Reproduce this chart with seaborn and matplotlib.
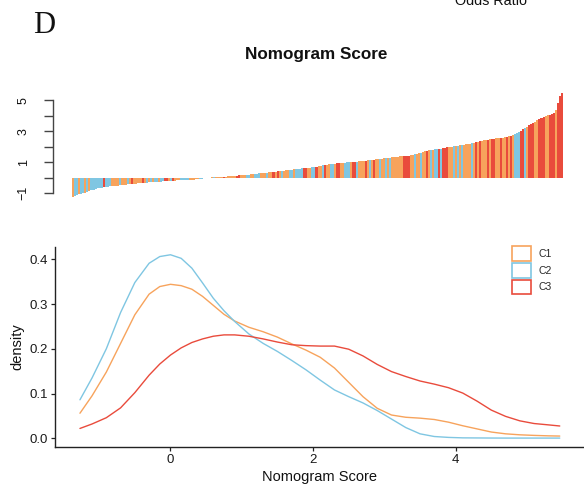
import numpy as np
import pandas as pd
import matplotlib
matplotlib.use("Agg")
import matplotlib.pyplot as plt
import seaborn as sns
from matplotlib.patches import Patch

sns.set_theme(style="white")
plt.rcParams['font.family'] = ['Liberation Sans', 'DejaVu Sans']

# ---------------- data ----------------
group_names = ["C1", "C2", "C3"]
group_colors = ["#F7A35C", "#7FC6E2", "#E94B3C"]

# sorted nomogram scores (waterfall bars)
bar_scores = [
    -1.27, -1.18, -1.12, -1.07, -1.03, -0.99, -0.95, -0.90, -0.86, -0.81,
    -0.76, -0.72, -0.69, -0.66, -0.63, -0.61, -0.59, -0.58, -0.56, -0.55,
    -0.53, -0.52, -0.50, -0.49, -0.47, -0.46, -0.44, -0.43, -0.41, -0.40,
    -0.39, -0.37, -0.36, -0.35, -0.34, -0.32, -0.31, -0.30, -0.29, -0.28,
    -0.27, -0.26, -0.25, -0.24, -0.23, -0.22, -0.21, -0.20, -0.20, -0.19,
    -0.18, -0.17, -0.17, -0.16, -0.15, -0.14, -0.14, -0.13, -0.12, -0.11,
    -0.10, -0.09, -0.07, -0.05, -0.03, -0.01, 0.00, 0.01, 0.02, 0.03,
    0.04, 0.05, 0.05, 0.06, 0.07, 0.08, 0.09, 0.10, 0.11, 0.12,
    0.13, 0.15, 0.16, 0.17, 0.18, 0.20, 0.21, 0.22, 0.24, 0.25,
    0.26, 0.28, 0.29, 0.30, 0.32, 0.33, 0.35, 0.36, 0.38, 0.39,
    0.41, 0.43, 0.44, 0.46, 0.48, 0.50, 0.52, 0.53, 0.55, 0.57,
    0.58, 0.59, 0.61, 0.62, 0.63, 0.65, 0.66, 0.67, 0.69, 0.72,
    0.74, 0.77, 0.80, 0.82, 0.85, 0.88, 0.90, 0.91, 0.92, 0.94,
    0.95, 0.96, 0.97, 0.98, 0.99, 1.00, 1.01, 1.03, 1.04, 1.05,
    1.06, 1.07, 1.09, 1.11, 1.13, 1.15, 1.16, 1.18, 1.19, 1.21,
    1.22, 1.24, 1.25, 1.27, 1.28, 1.30, 1.31, 1.33, 1.35, 1.37,
    1.38, 1.39, 1.40, 1.41, 1.42, 1.44, 1.47, 1.51, 1.55, 1.59,
    1.63, 1.67, 1.71, 1.75, 1.77, 1.79, 1.81, 1.83, 1.85, 1.87,
    1.89, 1.91, 1.93, 1.96, 1.98, 2.00, 2.02, 2.05, 2.07, 2.09,
    2.12, 2.14, 2.17, 2.19, 2.21, 2.23, 2.26, 2.29, 2.32, 2.35,
    2.38, 2.41, 2.44, 2.47, 2.49, 2.51, 2.53, 2.55, 2.57, 2.58,
    2.59, 2.61, 2.64, 2.68, 2.72, 2.77, 2.82, 2.87, 2.95, 3.05,
    3.14, 3.22, 3.30, 3.38, 3.46, 3.54, 3.62, 3.70, 3.78, 3.86,
    3.92, 3.98, 4.03, 4.08, 4.13, 4.20, 4.35, 4.80, 5.25, 5.48,
]
# cluster of each bar (1=C1, 2=C2, 3=C3)
bar_group_codes = (
    "1221221212" "2222232221" "1112111213" "1111312121" "2212233123"
    "1112222111" "1122221212" "1111311111" "3311122112" "2211121131"
    "3121112212" "2223311223" "1123112213" "3112221332" "1113121311"
    "2112121111" "1133311211" "2113121223" "2333112121" "2111121313"
    "1113133113" "1131312223" "3213331133" "3113331333"
)

# density curves
density_x = [-1.27, -1.1, -0.9, -0.7, -0.5, -0.3, -0.15, 0.0, 0.15, 0.3,
             0.45, 0.6, 0.75, 0.9, 1.1, 1.3, 1.5, 1.7, 1.9, 2.1,
             2.3, 2.5, 2.7, 2.9, 3.1, 3.3, 3.5, 3.7, 3.9, 4.1,
             4.3, 4.5, 4.7, 4.9, 5.1, 5.3, 5.46]
density_c1 = [0.056, 0.095, 0.148, 0.212, 0.276, 0.322, 0.339, 0.344, 0.341, 0.333,
              0.317, 0.297, 0.277, 0.262, 0.248, 0.238, 0.226, 0.211, 0.197, 0.181,
              0.157, 0.125, 0.093, 0.067, 0.052, 0.047, 0.045, 0.042, 0.036, 0.028,
              0.021, 0.014, 0.010, 0.0078, 0.0065, 0.0055, 0.005]
density_c2 = [0.086, 0.135, 0.200, 0.281, 0.348, 0.391, 0.406, 0.410, 0.402, 0.380,
              0.347, 0.313, 0.285, 0.261, 0.233, 0.212, 0.194, 0.174, 0.153, 0.130,
              0.108, 0.093, 0.079, 0.062, 0.043, 0.024, 0.010, 0.004, 0.002, 0.001,
              0.0008, 0.0006, 0.0005, 0.0005, 0.0005, 0.0005, 0.0005]
density_c3 = [0.022, 0.032, 0.046, 0.068, 0.102, 0.141, 0.166, 0.186, 0.202, 0.214,
              0.222, 0.228, 0.231, 0.231, 0.228, 0.222, 0.215, 0.209, 0.207, 0.206,
              0.206, 0.199, 0.184, 0.165, 0.149, 0.138, 0.128, 0.121, 0.113, 0.101,
              0.083, 0.063, 0.049, 0.039, 0.033, 0.030, 0.0275]

# ---------------- figure ----------------
W, H = 584, 486
fig = plt.figure(figsize=(W / 100, H / 100), dpi=100)


def fx(px):
    return px / W


def fy(py):
    return 1 - py / H


# ---- top: waterfall bars ----
top_y0, top_y1 = 201.05, 89.45
ax1 = fig.add_axes([fx(72), fy(top_y0), (563 - 72) / W, (top_y0 - top_y1) / H])
bars_df = pd.DataFrame({
    "idx": np.arange(len(bar_scores)),
    "score": bar_scores,
    "group": [group_names[int(c) - 1] for c in bar_group_codes],
})
sns.barplot(data=bars_df, x="idx", y="score", hue="group", hue_order=group_names,
            palette=group_colors, dodge=False, width=1.0, saturation=1,
            errorbar=None, legend=False, linewidth=0, ax=ax1)
ax1.set_xlim(-0.5, len(bar_scores) - 0.5)
ax1.set_ylim(-1.5, 5.7)
ax1.set_xlabel("")
ax1.set_ylabel("")
ax1.set_xticks([])
for s in ["top", "right", "bottom"]:
    ax1.spines[s].set_visible(False)
ax1.spines["left"].set_position(("outward", 13.9))
ax1.spines["left"].set_bounds(-1, 5)
ax1.spines["left"].set_color("#444444")
ax1.spines["left"].set_linewidth(1.0)
ax1.set_yticks([-1, 0, 1, 2, 3, 4, 5])
ax1.set_yticklabels(["\u22121", "", "1", "", "3", "", "5"])
ax1.tick_params(axis="y", left=True, length=6.5, width=1.0, color="#444444",
                labelsize=9, pad=10.0, labelcolor="#111111")
for lab in ax1.get_yticklabels():
    lab.set_rotation(90)
    lab.set_va("center")
    lab.set_ha("right")
ax1.patch.set_alpha(0)

fig.text(fx(316), fy(55), "Nomogram Score", ha="center", va="center",
         fontsize=12.3, fontweight="bold", color="#111111")

# ---- bottom: density curves ----
ax2 = fig.add_axes([fx(55), fy(447.3), 529 / W, (447.3 - 246.7) / H])
dens_df = pd.concat([
    pd.DataFrame({"x": density_x, "density": density_c1, "group": "C1"}),
    pd.DataFrame({"x": density_x, "density": density_c2, "group": "C2"}),
    pd.DataFrame({"x": density_x, "density": density_c3, "group": "C3"}),
])
sns.lineplot(data=dens_df, x="x", y="density", hue="group", hue_order=group_names,
             palette=group_colors, linewidth=1.0, legend=False, errorbar=None, ax=ax2)
for ln in ax2.get_lines():
    ln.set_solid_joinstyle("round")
ax2.set_xlim(-1.62, 5.80)
ax2.set_ylim(-0.0201, 0.428)
ax2.set_xticks([0, 2, 4])
ax2.set_xticklabels(["0", "2", "4"])
ax2.set_yticks([0.0, 0.1, 0.2, 0.3, 0.4])
ax2.set_yticklabels(["0.0", "0.1", "0.2", "0.3", "0.4"])
for s in ["top", "right"]:
    ax2.spines[s].set_visible(False)
for s in ["left", "bottom"]:
    ax2.spines[s].set_color("#222222")
    ax2.spines[s].set_linewidth(1.0)
ax2.tick_params(axis="both", left=True, bottom=True, length=3, width=0.9,
                color="#222222", labelsize=9.5, labelcolor="#1a1a1a", pad=2)
ax2.set_xlabel("Nomogram Score", fontsize=10.5, color="#111111", labelpad=3)
ax2.set_ylabel("density", fontsize=10.5, color="#111111", labelpad=4)

handles = [Patch(facecolor="white", edgecolor=c, linewidth=1.2, label=n)
           for n, c in zip(group_names, group_colors)]
ax2.legend(handles=handles, loc="upper left",
           bbox_to_anchor=(fx(512), fy(246)), bbox_transform=fig.transFigure,
           frameon=False, fontsize=7.5, handlelength=1.8, handleheight=1.8,
           handletextpad=0.7, labelspacing=0.2, borderpad=0, borderaxespad=0)

# ---- panel letter and clipped text from the panel above ----
fig.text(fx(44), fy(33), "D", ha="center", va="baseline", fontsize=22,
         family=["Liberation Serif", "DejaVu Serif"], color="#111111")
fig.text(fx(491), fy(5), "Odds Ratio", ha="center", va="baseline",
         fontsize=10.4, color="#111111")

fig.savefig("out.png", dpi=100)
